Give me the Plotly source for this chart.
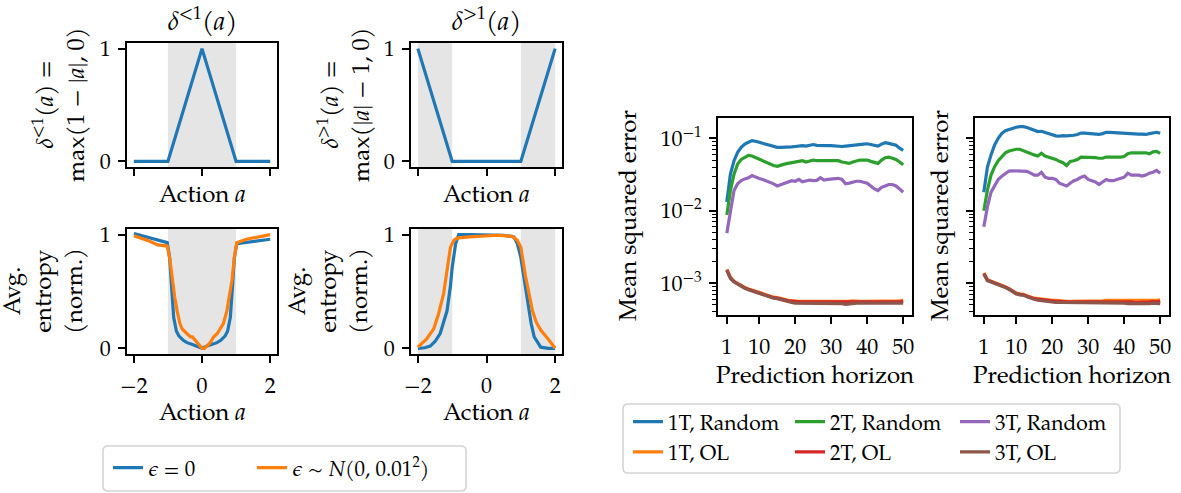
import plotly.graph_objects as go

# ---------------- data ----------------
actions = [-2, -1, 0, 1, 2]
delta_lt1 = [0, 0, 1, 0, 0]
delta_gt1 = [1, 0, 0, 0, 1]

ent_lt1_eps0_x = [-2, -1.5, -1.02, -0.95, -0.9, -0.83, -0.75, -0.68, -0.55, -0.44, -0.3, -0.15, 0,
                  0.15, 0.3, 0.44, 0.55, 0.68, 0.75, 0.83, 0.9, 0.95, 1.02, 1.5, 2]
ent_lt1_eps0_y = [1.01, 0.97, 0.93, 0.80, 0.57, 0.27, 0.15, 0.11, 0.07, 0.05, 0.035, 0.02, 0.0,
                  0.02, 0.035, 0.05, 0.07, 0.11, 0.15, 0.27, 0.57, 0.80, 0.92, 0.94, 0.96]
ent_lt1_noise_x = [-2, -1.6, -1.3, -1.02, -0.95, -0.88, -0.8, -0.73, -0.65, -0.58, -0.45, -0.34, -0.28,
                   -0.2, -0.1, 0, 0.07, 0.15, 0.24, 0.34, 0.45, 0.53, 0.63, 0.73, 0.8, 0.88, 0.95,
                   1.02, 1.3, 1.6, 2]
ent_lt1_noise_y = [0.99, 0.95, 0.91, 0.90, 0.80, 0.62, 0.45, 0.33, 0.22, 0.17, 0.13, 0.10, 0.10,
                   0.07, 0.03, 0.0, 0.0, 0.02, 0.05, 0.10, 0.13, 0.17, 0.22, 0.33, 0.45, 0.60, 0.80,
                   0.93, 0.96, 0.98, 1.0]
ent_gt1_eps0_x = [-2, -1.8, -1.64, -1.5, -1.35, -1.25, -1.15, -1.05, -1.0, -0.9, -0.81, -0.5, 0,
                  0.5, 0.8, 0.9, 1.0, 1.1, 1.19, 1.3, 1.39, 1.5, 1.58, 1.8, 2]
ent_gt1_eps0_y = [0.0, 0.005, 0.02, 0.06, 0.13, 0.22, 0.33, 0.55, 0.71, 0.92, 1.0, 1.0, 1.0,
                  0.995, 0.98, 0.92, 0.80, 0.60, 0.42, 0.22, 0.10, 0.04, 0.01, 0.0, 0.0]
ent_gt1_noise_x = [-2, -1.75, -1.54, -1.4, -1.25, -1.15, -1.05, -0.95, -0.86, -0.5, 0, 0.31, 0.6,
                   0.75, 0.9, 1.0, 1.14, 1.25, 1.34, 1.45, 1.58, 1.8, 2]
ent_gt1_noise_y = [0.01, 0.08, 0.17, 0.30, 0.48, 0.70, 0.89, 0.95, 0.97, 0.98, 0.99, 0.995, 0.99,
                   0.985, 0.95, 0.89, 0.63, 0.45, 0.33, 0.23, 0.16, 0.08, 0.0]

horizon = list(range(1, 51))

# left MSE panel
mse_a_1t_random = [0.0132, 0.032, 0.049, 0.064, 0.075, 0.083, 0.088, 0.093, 0.091, 0.088,
                   0.086, 0.084, 0.081, 0.078, 0.075, 0.075, 0.075, 0.076, 0.076, 0.077,
                   0.078, 0.079, 0.078, 0.080, 0.082, 0.080, 0.079, 0.080, 0.079, 0.079,
                   0.078, 0.077, 0.077, 0.078, 0.079, 0.081, 0.083, 0.084, 0.083, 0.084,
                   0.082, 0.081, 0.078, 0.083, 0.087, 0.085, 0.082, 0.080, 0.073, 0.068]
mse_a_1t_ol = [0.00155, 0.00120, 0.00106, 0.00099, 0.00092, 0.00087, 0.00083, 0.00080, 0.00077, 0.00075,
               0.00072, 0.00069, 0.00066, 0.00064, 0.00063, 0.00062, 0.00060, 0.00058, 0.00057, 0.00056,
               0.00056, 0.00056, 0.00056, 0.00056, 0.00055, 0.00056, 0.00056, 0.00056, 0.00056, 0.00056,
               0.00056, 0.00056, 0.00055, 0.00055, 0.00056, 0.00057, 0.00056, 0.00056, 0.00056, 0.00056,
               0.00056, 0.00056, 0.00056, 0.00056, 0.00056, 0.00057, 0.00057, 0.00056, 0.00057, 0.00058]
mse_a_2t_random = [0.0087, 0.019, 0.032, 0.044, 0.051, 0.055, 0.058, 0.057, 0.054, 0.052,
                   0.049, 0.047, 0.044, 0.042, 0.041, 0.043, 0.044, 0.045, 0.046, 0.047,
                   0.048, 0.049, 0.047, 0.048, 0.050, 0.049, 0.049, 0.050, 0.050, 0.050,
                   0.049, 0.049, 0.047, 0.046, 0.045, 0.047, 0.049, 0.050, 0.050, 0.050,
                   0.048, 0.047, 0.045, 0.050, 0.054, 0.055, 0.053, 0.051, 0.047, 0.043]
mse_a_2t_ol = [0.00152, 0.00118, 0.00105, 0.00098, 0.00091, 0.00086, 0.00082, 0.00079, 0.00076, 0.00074,
               0.00071, 0.00068, 0.00065, 0.00063, 0.00062, 0.00061, 0.00059, 0.00057, 0.00056, 0.00055,
               0.00055, 0.00055, 0.00055, 0.00055, 0.00054, 0.00055, 0.00055, 0.00055, 0.00055, 0.00055,
               0.00055, 0.00055, 0.00054, 0.00054, 0.00055, 0.00055, 0.00055, 0.00055, 0.00055, 0.00055,
               0.00055, 0.00055, 0.00055, 0.00055, 0.00054, 0.00055, 0.00055, 0.00055, 0.00055, 0.00056]
mse_a_3t_random = [0.0049, 0.0102, 0.019, 0.0236, 0.026, 0.0275, 0.0285, 0.0305, 0.029, 0.0278,
                   0.027, 0.026, 0.025, 0.0235, 0.022, 0.023, 0.0235, 0.025, 0.026, 0.0255,
                   0.027, 0.025, 0.026, 0.0265, 0.026, 0.0262, 0.0285, 0.0265, 0.027, 0.0272,
                   0.0275, 0.028, 0.027, 0.0235, 0.024, 0.025, 0.0255, 0.0255, 0.025, 0.024,
                   0.022, 0.020, 0.019, 0.021, 0.022, 0.023, 0.023, 0.022, 0.020, 0.018]
mse_a_3t_ol = [0.00150, 0.00116, 0.00104, 0.00097, 0.00090, 0.00085, 0.00081, 0.00078, 0.00075, 0.00073,
               0.00070, 0.00067, 0.00064, 0.00062, 0.00061, 0.00059, 0.00057, 0.00055, 0.00054, 0.00053,
               0.00053, 0.00053, 0.00053, 0.00053, 0.00053, 0.00053, 0.00053, 0.00052, 0.00053, 0.00053,
               0.00052, 0.00052, 0.00052, 0.00051, 0.00052, 0.00053, 0.00053, 0.00053, 0.00053, 0.00053,
               0.00053, 0.00053, 0.00053, 0.00052, 0.00052, 0.00053, 0.00053, 0.00053, 0.00053, 0.00053]

# right MSE panel
mse_b_1t_random = [0.018, 0.040, 0.059, 0.081, 0.100, 0.117, 0.127, 0.133, 0.138, 0.142,
                   0.145, 0.145, 0.141, 0.134, 0.128, 0.124, 0.125, 0.121, 0.116, 0.111,
                   0.108, 0.107, 0.109, 0.108, 0.108, 0.110, 0.113, 0.118, 0.118, 0.117,
                   0.114, 0.113, 0.113, 0.116, 0.121, 0.121, 0.120, 0.119, 0.118, 0.116,
                   0.114, 0.114, 0.114, 0.114, 0.114, 0.113, 0.116, 0.120, 0.121, 0.117]
mse_b_1t_ol = [0.00138, 0.00112, 0.00106, 0.00102, 0.00098, 0.00093, 0.00089, 0.00084, 0.00078, 0.00073,
               0.00071, 0.00070, 0.00067, 0.00064, 0.00062, 0.00061, 0.00060, 0.00059, 0.00058, 0.00058,
               0.00058, 0.00057, 0.00057, 0.00056, 0.00056, 0.00056, 0.00056, 0.00056, 0.00057, 0.00057,
               0.00057, 0.00057, 0.00057, 0.00057, 0.00058, 0.00058, 0.00058, 0.00058, 0.00058, 0.00057,
               0.00057, 0.00057, 0.00057, 0.00057, 0.00057, 0.00058, 0.00058, 0.00058, 0.00058, 0.00059]
mse_b_2t_random = [0.010, 0.0192, 0.031, 0.0405, 0.049, 0.0557, 0.063, 0.0667, 0.069, 0.0705,
                   0.0705, 0.0675, 0.063, 0.061, 0.059, 0.057, 0.062, 0.057, 0.055, 0.053,
                   0.051, 0.048, 0.046, 0.042, 0.048, 0.049, 0.051, 0.055, 0.055, 0.055,
                   0.054, 0.054, 0.053, 0.053, 0.055, 0.055, 0.055, 0.054, 0.055, 0.056,
                   0.061, 0.063, 0.063, 0.063, 0.062, 0.063, 0.061, 0.065, 0.066, 0.062]
mse_b_2t_ol = [0.00136, 0.00110, 0.00105, 0.00101, 0.00097, 0.00092, 0.00088, 0.00083, 0.00077, 0.00072,
               0.00070, 0.00069, 0.00066, 0.00063, 0.00061, 0.00060, 0.00059, 0.00058, 0.00057, 0.00057,
               0.00056, 0.00056, 0.00055, 0.00055, 0.00055, 0.00055, 0.00055, 0.00055, 0.00055, 0.00055,
               0.00055, 0.00055, 0.00055, 0.00055, 0.00056, 0.00056, 0.00056, 0.00056, 0.00055, 0.00055,
               0.00055, 0.00055, 0.00054, 0.00054, 0.00055, 0.00055, 0.00055, 0.00056, 0.00055, 0.00056]
mse_b_3t_random = [0.0060, 0.0113, 0.018, 0.0225, 0.027, 0.030, 0.0327, 0.0353, 0.0355, 0.0355,
                   0.0355, 0.0355, 0.035, 0.033, 0.031, 0.031, 0.034, 0.029, 0.028, 0.028,
                   0.027, 0.024, 0.023, 0.022, 0.024, 0.026, 0.027, 0.029, 0.030, 0.027,
                   0.026, 0.025, 0.023, 0.025, 0.027, 0.026, 0.026, 0.027, 0.028, 0.029,
                   0.033, 0.031, 0.031, 0.031, 0.030, 0.031, 0.033, 0.034, 0.036, 0.033]
mse_b_3t_ol = [0.00134, 0.00108, 0.00104, 0.00100, 0.00096, 0.00091, 0.00087, 0.00082, 0.00076, 0.00071,
               0.00069, 0.00068, 0.00065, 0.00062, 0.00060, 0.00058, 0.00057, 0.00056, 0.00055, 0.00055,
               0.00054, 0.00054, 0.00054, 0.00053, 0.00053, 0.00053, 0.00053, 0.00053, 0.00053, 0.00053,
               0.00053, 0.00053, 0.00053, 0.00053, 0.00053, 0.00053, 0.00053, 0.00053, 0.00053, 0.00053,
               0.00052, 0.00052, 0.00052, 0.00051, 0.00052, 0.00052, 0.00052, 0.00053, 0.00052, 0.00052]

mse_tick_vals = [1e-3, 1e-2, 1e-1]
mse_tick_text = ["10<sup>−3</sup>", "10<sup>−2</sup>", "10<sup>−1</sup>"]
horizon_ticks = [1, 10, 20, 30, 40, 50]

# ---------------- styling ----------------
W, H = 1181, 493
FONT = "P052, 'TeX Gyre Pagella', 'Palatino Linotype', Palatino, 'Liberation Serif', serif"
FS_LABEL = 24
FS_TICK = 22
FS_LEG = 21
FS_TITLE = 26
C = dict(blue="#1f77b4", orange="#ff7f0e", green="#2ca02c", red="#d62728",
         purple="#9467bd", brown="#8c564b")
LW = 3.2


def px(x):
    return x / W


def py(y):
    return (H - y) / H


fig = go.Figure()

# panel 1 & 2: delta functions
fig.add_trace(go.Scatter(x=actions, y=delta_lt1, mode="lines", line=dict(color=C["blue"], width=LW),
                         xaxis="x", yaxis="y", showlegend=False))
fig.add_trace(go.Scatter(x=actions, y=delta_gt1, mode="lines", line=dict(color=C["blue"], width=LW),
                         xaxis="x2", yaxis="y2", showlegend=False))

# panel 3 & 4: entropy
fig.add_trace(go.Scatter(x=ent_lt1_eps0_x, y=ent_lt1_eps0_y, mode="lines",
                         line=dict(color=C["blue"], width=LW), xaxis="x3", yaxis="y3",
                         name="<i>ϵ</i> = 0", legend="legend", showlegend=True))
fig.add_trace(go.Scatter(x=ent_lt1_noise_x, y=ent_lt1_noise_y, mode="lines",
                         line=dict(color=C["orange"], width=LW), xaxis="x3", yaxis="y3",
                         name="<i>ϵ</i> ∼ <i>N</i>(0, 0.01<sup>2</sup>)", legend="legend5",
                         showlegend=True))
fig.add_trace(go.Scatter(x=ent_gt1_eps0_x, y=ent_gt1_eps0_y, mode="lines",
                         line=dict(color=C["blue"], width=LW), xaxis="x4", yaxis="y4", showlegend=False))
fig.add_trace(go.Scatter(x=ent_gt1_noise_x, y=ent_gt1_noise_y, mode="lines",
                         line=dict(color=C["orange"], width=LW), xaxis="x4", yaxis="y4", showlegend=False))

# panel 5 & 6: MSE
series_a = [("1T, Random", mse_a_1t_random, "blue", "legend2"),
            ("1T, OL", mse_a_1t_ol, "orange", "legend2"),
            ("2T, Random", mse_a_2t_random, "green", "legend3"),
            ("2T, OL", mse_a_2t_ol, "red", "legend3"),
            ("3T, Random", mse_a_3t_random, "purple", "legend4"),
            ("3T, OL", mse_a_3t_ol, "brown", "legend4")]
series_b = [mse_b_1t_random, mse_b_1t_ol, mse_b_2t_random, mse_b_2t_ol, mse_b_3t_random, mse_b_3t_ol]
for (name, ya, col, leg), yb in zip(series_a, series_b):
    fig.add_trace(go.Scatter(x=horizon, y=ya, mode="lines", line=dict(color=C[col], width=LW),
                             xaxis="x5", yaxis="y5", name=name, legend=leg, showlegend=True))
    fig.add_trace(go.Scatter(x=horizon, y=yb, mode="lines", line=dict(color=C[col], width=LW),
                             xaxis="x6", yaxis="y6", showlegend=False))

axis_common = dict(showline=True, linecolor="black", linewidth=1.6, mirror=True, ticks="outside",
                   ticklen=7, tickwidth=1.6, tickcolor="black", showgrid=False, zeroline=False,
                   tickfont=dict(family=FONT, size=FS_TICK, color="black"))

dom = {
    1: ([127, 277], [43, 167]),
    2: ([411, 562], [43, 167]),
    3: ([127, 277], [229, 354]),
    4: ([411, 562], [229, 354]),
    5: ([718, 912], [118, 315]),
    6: ([975, 1169], [118, 315]),
}


def xd(i):
    return [px(dom[i][0][0]), px(dom[i][0][1])]


def yd(i):
    return [py(dom[i][1][1]), py(dom[i][1][0])]


layout = dict(width=W, height=H, margin=dict(l=0, r=0, t=0, b=0, pad=0, autoexpand=False),
              paper_bgcolor="white", plot_bgcolor="white",
              font=dict(family=FONT, size=FS_TICK, color="black"))

for i in (1, 2, 3, 4):
    xa = dict(axis_common, domain=xd(i), range=[-2.2, 2.2], tickvals=[-2, 0, 2],
              showticklabels=(i >= 3), anchor="y" + ("" if i == 1 else str(i)),
              ticklabelstandoff=4)
    ya = dict(axis_common, domain=yd(i), range=[-0.05, 1.05], tickvals=[0, 1],
              anchor="x" + ("" if i == 1 else str(i)), ticklabelstandoff=3)
    layout["xaxis" + ("" if i == 1 else str(i))] = xa
    layout["yaxis" + ("" if i == 1 else str(i))] = ya

minor_vals = [m * 10 ** e for e in (-4, -3, -2, -1) for m in range(2, 10)]
for i in (5, 6):
    layout["xaxis%d" % i] = dict(axis_common, domain=xd(i), range=[-1.45, 52.45],
                                 tickvals=horizon_ticks, anchor="y%d" % i, ticklabelstandoff=4)
    layout["yaxis%d" % i] = dict(axis_common, domain=yd(i), type="log", range=[-3.44, -0.72],
                                 tickvals=mse_tick_vals, ticktext=mse_tick_text,
                                 showticklabels=(i == 5), anchor="x%d" % i, ticklabelstandoff=3,
                                 minor=dict(tickvals=minor_vals, ticks="outside", ticklen=4,
                                            tickwidth=1.2, tickcolor="black"))

legend_font = dict(family=FONT, size=FS_LEG, color="black")
for k, xl in (("legend", 108), ("legend5", 252)):
    layout[k] = dict(orientation="v", x=px(xl), y=py(468), xanchor="left", yanchor="middle",
                     bgcolor="rgba(0,0,0,0)", borderwidth=0, font=legend_font, itemwidth=30)
for k, xl in (("legend2", 628), ("legend3", 790), ("legend4", 955)):
    layout[k] = dict(orientation="v", x=px(xl), y=py(437), xanchor="left", yanchor="middle",
                     bgcolor="rgba(0,0,0,0)", borderwidth=0, font=legend_font,
                     traceorder="normal", itemwidth=30, tracegroupgap=0)


def rounded_box(x0, y0, x1, y1, r=5):
    # pixel coordinates -> paper path with rounded corners
    rx, ry = r / W, r / H
    X0, X1 = px(x0), px(x1)
    Yt, Yb = py(y0), py(y1)
    return (f"M {X0+rx},{Yt} L {X1-rx},{Yt} Q {X1},{Yt} {X1},{Yt-ry} "
            f"L {X1},{Yb+ry} Q {X1},{Yb} {X1-rx},{Yb} L {X0+rx},{Yb} Q {X0},{Yb} {X0},{Yb+ry} "
            f"L {X0},{Yt-ry} Q {X0},{Yt} {X0+rx},{Yt} Z")


shapes = []
shade = "#e5e5e5"
for xr, ref in (((-1, 1), "x"), ((-2, -1), "x2"), ((1, 2), "x2"), ((-1, 1), "x3"),
                ((-2, -1), "x4"), ((1, 2), "x4")):
    yref = ("y" + ref[1:]) + " domain"
    shapes.append(dict(type="rect", xref=ref, yref=yref, x0=xr[0], x1=xr[1], y0=0, y1=1,
                       fillcolor=shade, line=dict(width=0), layer="below"))
shapes.append(dict(type="path", xref="paper", yref="paper", path=rounded_box(103, 446, 466, 491),
                   line=dict(color="#d4d4d4", width=1.6), fillcolor="rgba(0,0,0,0)"))
shapes.append(dict(type="path", xref="paper", yref="paper", path=rounded_box(623, 404, 1120, 473),
                   line=dict(color="#d4d4d4", width=1.6), fillcolor="rgba(0,0,0,0)"))
layout["shapes"] = shapes


def ann(text, x, y, size=FS_LABEL, angle=0):
    return dict(text=text, x=px(x), y=py(y), xref="paper", yref="paper", showarrow=False,
                xanchor="center", yanchor="middle", textangle=angle,
                font=dict(family=FONT, size=size, color="black"))


annotations = [
    ann("<i>δ</i><sup>&lt;1</sup>(<i>a</i>)", 202, 21, FS_TITLE),
    ann("<i>δ</i><sup>&gt;1</sup>(<i>a</i>)", 486, 21, FS_TITLE),
    ann("<i>δ</i><sup>&lt;1</sup>(<i>a</i>) =<br>max(1 − |<i>a</i>|, 0)", 61, 105, FS_LABEL, -90),
    ann("<i>δ</i><sup>&gt;1</sup>(<i>a</i>) =<br>max(|<i>a</i>| − 1, 0)", 346, 105, FS_LABEL, -90),
    ann("Avg.<br>entropy<br>(norm.)", 46, 291, FS_LABEL, -90),
    ann("Avg.<br>entropy<br>(norm.)", 331, 291, FS_LABEL, -90),
    ann("Action <i>a</i>", 202, 196),
    ann("Action <i>a</i>", 486, 196),
    ann("Action <i>a</i>", 202, 414),
    ann("Action <i>a</i>", 486, 414),
    ann("Mean squared error", 630, 216, FS_LABEL, -90),
    ann("Mean squared error", 942, 216, FS_LABEL, -90),
    ann("Prediction horizon", 815, 377),
    ann("Prediction horizon", 1072, 377),
]
layout["annotations"] = annotations

fig.update_layout(**layout)
fig.write_html("out.html", config={"displayModeBar": False},
               post_script="document.body.style.margin='0';")
